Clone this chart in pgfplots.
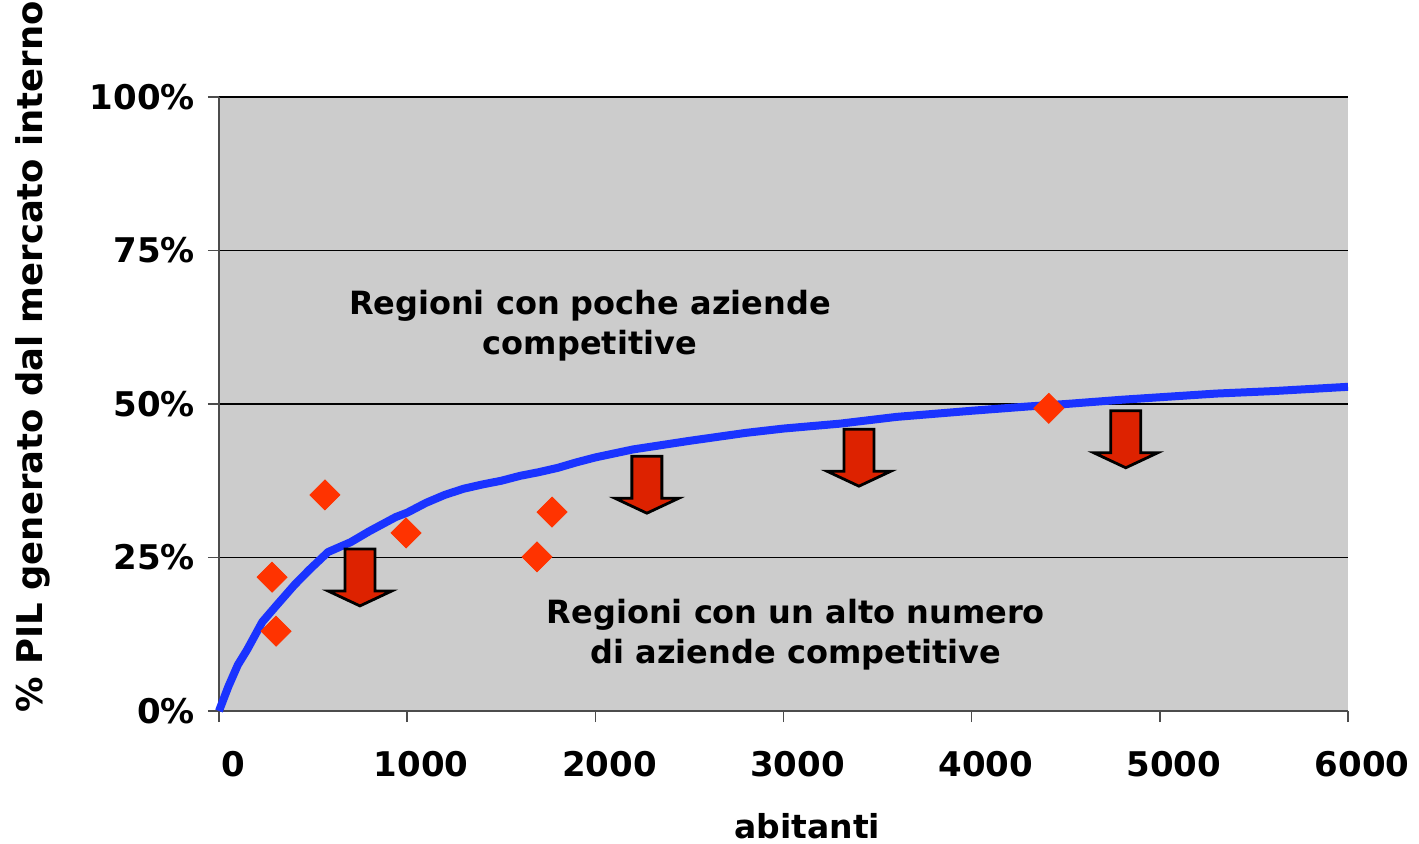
\documentclass[border=0pt]{standalone}
\usepackage{pgfplots}
\pgfplotsset{compat=1.18}
\usepackage{fontspec}
\setmainfont{DejaVu Sans}
\definecolor{curveblue}{HTML}{1A33FF}
\definecolor{dotred}{HTML}{FF3300}
\definecolor{arrowred}{HTML}{DD2200}
\definecolor{bg}{HTML}{CCCCCC}
\newcommand{\downarrowshape}[2]{%
  \draw[black, line width=1.4pt, fill=arrowred, line join=miter]
    (axis cs:#1,#2) ++(-7.5pt,0) -- ++(15pt,0) -- ++(0,-21pt) -- ++(8.5pt,0)
    -- ++(-16pt,-7.5pt) -- ++(-16pt,7.5pt) -- ++(8.5pt,0) -- cycle;}
\begin{document}
\begin{tikzpicture}
\path[use as bounding box] (-109.5pt,-66pt) rectangle (600pt,355.5pt);
\begin{axis}[
  scale only axis,
  width=564.5pt, height=307pt,
  xmin=0, xmax=6000, ymin=0, ymax=100,
  axis background/.style={fill=bg},
  axis lines=left,
  axis line style={-, draw=black!70, line width=0.8pt},
  xtick={0,1000,2000,3000,4000,5000,6000},
  ytick={0,25,50,75,100},
  yticklabels={0\%,25\%,50\%,75\%,100\%},
  tick align=outside,
  major tick length=5.5pt,
  tick style={black!70, line width=0.8pt},
  ymajorgrids,
  major grid style={black, line width=0.7pt},
  /pgf/number format/assume math mode=true,
  /pgf/number format/set thousands separator={},
  tick label style={font=\fontsize{17}{18}\selectfont\bfseries},
  xticklabel style={xshift=7pt, yshift=-11pt},
  yticklabel style={xshift=-3pt},
  xlabel={abitanti},
  ylabel={\% PIL generato dal mercato interno},
  xlabel style={font=\fontsize{16.5}{18}\selectfont\bfseries, at={(axis description cs:0.521,-0.187)}, anchor=center},
  ylabel style={font=\fontsize{17.7}{18}\selectfont\bfseries, at={(axis description cs:-0.165,0.577)}, anchor=center},
  clip=false,
]
\addplot[curveblue, line width=4pt, line join=round] coordinates {
(0,0) (50,4) (100,7.5) (150,10) (230,14.5) (300,17) (400,20.5) (480,23)
(580,25.9) (700,27.5) (800,29.3) (940,31.6) (1000,32.3) (1100,33.9)
(1200,35.2) (1300,36.2) (1400,36.9) (1500,37.5) (1600,38.3) (1700,38.9) (1800,39.6) (1900,40.5)
(2000,41.3) (2200,42.6) (2500,44.0) (2800,45.3) (3000,46.0) (3300,46.8)
(3600,47.9) (4000,48.9) (4300,49.6) (4500,50.0) (4800,50.7) (5000,51.1)
(5300,51.7) (5600,52.1) (6000,52.8)
};
\addplot[only marks, mark=square*, mark size=5.3pt, mark options={rotate=45, fill=dotred, draw=dotred}] coordinates {
(282,21.8) (303,13.0) (563,35.2) (994,29.0) (1690,25.1) (1770,32.4) (4410,49.3)
};
\downarrowshape{749}{26.4}
\downarrowshape{2274}{41.5}
\downarrowshape{3401}{45.9}
\downarrowshape{4819}{48.9}
\node[font=\fontsize{16}{20}\selectfont\bfseries, align=center] at (axis cs:1971,62.7) {Regioni con poche aziende\\competitive};
\node[font=\fontsize{16}{20}\selectfont\bfseries, align=center] at (axis cs:3066,12.5) {Regioni con un alto numero\\di aziende competitive};
\end{axis}
\end{tikzpicture}
\end{document}
